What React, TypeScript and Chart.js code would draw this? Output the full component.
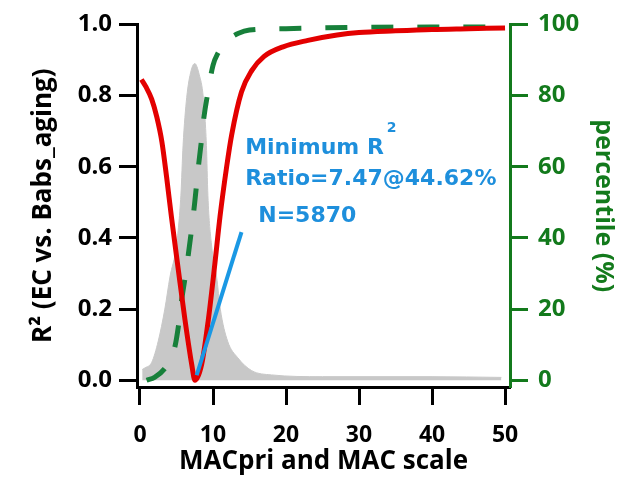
import React, { useEffect, useRef } from 'react';
import { Chart, registerables } from 'chart.js';

Chart.register(...registerables);

// ---------- data ----------
const xTicks = [0, 10, 20, 30, 40, 50];
const leftTicks = [0, 0.2, 0.4, 0.6, 0.8, 1.0];
const rightTicks = [0, 20, 40, 60, 80, 100];

// R2 vs ratio (red)
const redX = [0.2, 0.8, 1.6, 2.3, 3.0, 3.65, 4.3, 5.25, 6.16, 7.08, 7.53, 8.45, 9.36, 10.27, 10.96, 11.87, 12.56, 13.9, 15.3, 17, 19.6, 23, 27, 30, 35, 40, 45, 50];
const redY = [0.845, 0.825, 0.79, 0.74, 0.67, 0.57, 0.46, 0.31, 0.17, 0.045, 0.0, 0.045, 0.17, 0.33, 0.46, 0.6, 0.69, 0.81, 0.87, 0.91, 0.937, 0.955, 0.97, 0.977, 0.982, 0.986, 0.988, 0.99];

// cumulative percentile (green dashed, right axis)
const greenX = [0.9, 2.0, 3.4, 4.2, 4.8, 5.25, 5.7, 6.15, 6.6, 7.1, 7.5, 8.0, 8.45, 8.7, 9.35, 10.0, 10.7, 11.4, 12.3, 13.5, 15, 20, 30, 40, 50];
const greenY = [0, 0.8, 3.3, 6, 9.6, 15, 22.5, 28.5, 35, 43, 50, 60, 68, 73, 81.5, 88.5, 92, 94, 96, 97.5, 98.4, 98.8, 99.2, 99.4, 99.5];

// frequency distribution (grey area)
const grayX = [0.3, 0.7, 1.6, 2.5, 3.4, 4.1, 5.0, 5.6, 5.9, 6.4, 7.0, 7.5, 8.1, 8.67, 9.1, 9.3, 9.8, 10.5, 11, 12, 13.4, 15.3, 18, 25, 40, 49.5];
const grayY = [0.03, 0.035, 0.05, 0.11, 0.2, 0.29, 0.38, 0.52, 0.66, 0.795, 0.87, 0.89, 0.86, 0.795, 0.66, 0.52, 0.38, 0.29, 0.2, 0.11, 0.063, 0.027, 0.015, 0.01, 0.01, 0.008];

// pointer line (blue)
const blueX = [7.76, 13.9];
const blueY = [0.014, 0.416];

const annotationLines = ['Minimum R', 'Ratio=7.47@44.62%', 'N=5870'];
const annotationSup = '2';

const xTitle = 'MACpri and MAC scale';
const leftTitle = 'R\u00B2 (EC vs. Babs_aging)';
const rightTitle = 'percentile (%)';

// ---------- styles ----------
const FONT = '"Open Sans", "DejaVu Sans", sans-serif';
const ANNOT_FONT = '"DejaVu Sans", sans-serif';
const RED = '#e30000';
const GREEN_LINE = '#17803a';
const GREEN_AXIS = '#137a1c';
const GRAY = '#c8c8c8';
const BLUE = '#1a98e4';
const BLUE_TEXT = '#1e8fdc';

const zip = (xs: number[], ys: number[]) => xs.map((x, i) => ({ x, y: ys[i] }));

const annotPlugin = {
  id: 'annot',
  afterDatasetsDraw(chart: any) {
    const { ctx, scales } = chart;
    const x = scales.x;
    const y = scales.y;
    ctx.save();
    ctx.fillStyle = BLUE_TEXT;
    ctx.textAlign = 'left';
    ctx.textBaseline = 'alphabetic';
    ctx.font = `bold 22px ${ANNOT_FONT}`;
    const x0 = x.getPixelForValue(14.4);
    ctx.fillText(annotationLines[0], x0, y.getPixelForValue(0.636));
    const w = ctx.measureText(annotationLines[0]).width;
    ctx.fillText(annotationLines[1], x0, y.getPixelForValue(0.548));
    ctx.fillText(annotationLines[2], x.getPixelForValue(16.2), y.getPixelForValue(0.444));
    ctx.font = `bold 14px ${ANNOT_FONT}`;
    ctx.fillText(annotationSup, x0 + w + 3, y.getPixelForValue(0.699));
    ctx.restore();
  },
};

export default function App() {
  const ref = useRef<HTMLCanvasElement | null>(null);

  useEffect(() => {
    document.body.style.margin = '0';
    const canvas = ref.current;
    if (!canvas) return;
    const chart = new Chart(canvas, {
      type: 'line',
      data: {
        datasets: [
          {
            data: zip(blueX, blueY),
            borderColor: BLUE,
            borderWidth: 4,
            pointRadius: 0,
            yAxisID: 'y',
            order: 0,
          },
          {
            data: zip(redX, redY),
            borderColor: RED,
            borderWidth: 5,
            pointRadius: 0,
            cubicInterpolationMode: 'monotone',
            yAxisID: 'y',
            order: 1,
          },
          {
            data: zip(greenX, greenY),
            borderColor: GREEN_LINE,
            borderWidth: 5,
            borderDash: [22, 24],
            pointRadius: 0,
            cubicInterpolationMode: 'monotone',
            yAxisID: 'y2',
            order: 2,
          },
          {
            data: zip(grayX, grayY),
            borderColor: GRAY,
            backgroundColor: GRAY,
            borderWidth: 1,
            pointRadius: 0,
            fill: 'origin',
            cubicInterpolationMode: 'monotone',
            yAxisID: 'y',
            order: 3,
          },
        ],
      } as any,
      options: {
        responsive: false,
        animation: false,
        devicePixelRatio: 1,
        layout: { padding: { top: 15, left: 0, right: 0, bottom: 0 } },
        plugins: { legend: { display: false }, tooltip: { enabled: false } },
        scales: {
          x: {
            type: 'linear',
            min: -0.41,
            max: 50.68,
            afterBuildTicks: (s: any) => {
              s.ticks = xTicks.map((v) => ({ value: v }));
            },
            afterFit: (s: any) => {
              s.height = 90;
            },
            grid: { drawOnChartArea: false, drawTicks: true, tickLength: 18, tickWidth: 3, tickColor: '#000' },
            border: { display: true, color: '#000', width: 3 },
            ticks: {
              color: '#000',
              font: { family: FONT, weight: 'bold', size: 23 },
              padding: 17,
              maxRotation: 0,
              callback: (v: any) => String(v),
            },
            title: {
              display: true,
              text: xTitle,
              color: '#000',
              font: { family: FONT, weight: 'bold', size: 26 },
              padding: { top: 0, bottom: 0 },
            },
          },
          y: {
            type: 'linear',
            position: 'left',
            min: -0.019,
            max: 1.0,
            afterBuildTicks: (s: any) => {
              s.ticks = leftTicks.map((v) => ({ value: v }));
            },
            afterFit: (s: any) => {
              s.width = 137;
            },
            grid: { drawOnChartArea: false, drawTicks: true, tickLength: 18, tickWidth: 3, tickColor: '#000' },
            border: { display: true, color: '#000', width: 3 },
            ticks: {
              color: '#000',
              font: { family: FONT, weight: 'bold', size: 24 },
              padding: 7,
              callback: (v: any) => Number(v).toFixed(1),
            },
            title: {
              display: true,
              text: leftTitle,
              color: '#000',
              font: { family: FONT, weight: 'bold', size: 26 },
              padding: { top: 28, bottom: 0 },
            },
          },
          y2: {
            type: 'linear',
            position: 'right',
            min: -1.9,
            max: 100,
            afterBuildTicks: (s: any) => {
              s.ticks = rightTicks.map((v) => ({ value: v }));
            },
            afterFit: (s: any) => {
              s.width = 119;
            },
            grid: { drawOnChartArea: false, drawTicks: true, tickLength: 18, tickWidth: 3, tickColor: GREEN_AXIS },
            border: { display: true, color: GREEN_AXIS, width: 3 },
            ticks: {
              color: GREEN_AXIS,
              font: { family: FONT, weight: 'bold', size: 24 },
              padding: 10,
              callback: (v: any) => String(v),
            },
            title: {
              display: true,
              text: rightTitle,
              color: GREEN_AXIS,
              font: { family: FONT, weight: 'bold', size: 25 },
              padding: { top: 11, bottom: 0 },
            },
          },
        },
      } as any,
      plugins: [annotPlugin],
    });
    return () => chart.destroy();
  }, []);

  return <canvas ref={ref} width={629} height={477} style={{ display: 'block' }} />;
}
